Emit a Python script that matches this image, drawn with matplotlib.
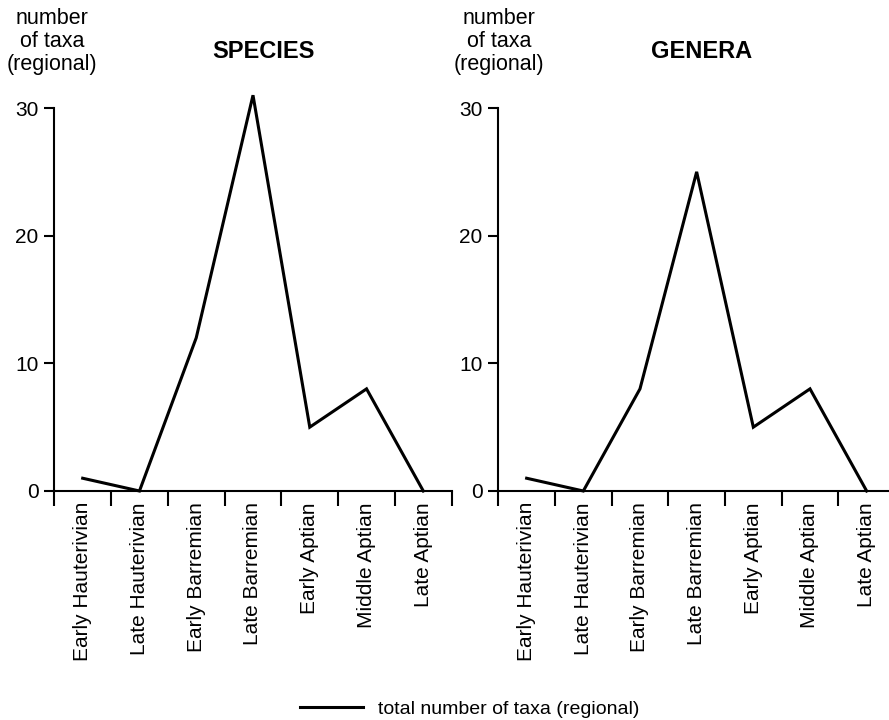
import matplotlib
matplotlib.use("Agg")
import matplotlib.pyplot as plt
from matplotlib.lines import Line2D
import numpy as np

plt.rcParams['font.family'] = ['Liberation Sans', 'DejaVu Sans']

# data
stages = ["Early Hauterivian", "Late Hauterivian", "Early Barremian",
          "Late Barremian", "Early Aptian", "Middle Aptian", "Late Aptian"]
species = [1, 0, 12, 31, 5, 8, 0]
genera = [1, 0, 8, 25, 5, 8, 0]
yticks = [0, 10, 20, 30]
titles = ["SPECIES", "GENERA"]
ylab = "number\nof taxa\n(regional)"
legend_label = "total number of taxa (regional)"

W, H = 889, 720
fig = plt.figure(figsize=(W / 100, H / 100), dpi=100)


def px_axes(x0, x1, ybot, ytop):
    # axes box given in pixel coords of the image (y downward)
    return fig.add_axes([x0 / W, 1 - ybot / H, (x1 - x0) / W, (ybot - ytop) / H])


def panel(ax, vals, title, title_x, lab_x):
    n = len(stages)
    x = np.arange(n) + 0.5
    ax.plot(x, vals, color='black', lw=2.2, clip_on=False,
            solid_joinstyle='miter')
    ax.set_xlim(0, n)
    ax.set_ylim(0, 30)
    for s in ['top', 'right']:
        ax.spines[s].set_visible(False)
    ax.spines['left'].set_bounds(0, 30)
    ax.spines['left'].set_linewidth(1.5)
    ax.spines['bottom'].set_linewidth(1.5)
    ax.set_yticks(yticks)
    ax.tick_params(axis='y', length=7.2, width=1.5, labelsize=15, pad=4)
    # boundaries as major ticks, names at the centres as minor ticks
    ax.set_xticks(np.arange(n + 1))
    ax.set_xticklabels([])
    ax.tick_params(axis='x', which='major', length=10.8, width=1.5)
    ax.set_xticks(x, minor=True)
    ax.set_xticklabels(stages, minor=True, rotation=90, fontsize=15)
    ax.tick_params(axis='x', which='minor', length=0, pad=8)
    fig.text(title_x / W, 1 - 51 / H, title, ha='center', va='center',
             fontsize=17, fontweight='bold')
    fig.text(lab_x / W, 1 - 8 / H, ylab, ha='center', va='top',
             fontsize=15.5, linespacing=1.12, multialignment='center')


ax1 = px_axes(54.3, 451.7, 491, 108)
panel(ax1, species, titles[0], 263, 52)
ax2 = px_axes(498.3, 895.0, 491, 108)
panel(ax2, genera, titles[1], 702, 499)

handle = Line2D([], [], color='black', lw=2.2)
fig.legend([handle], [legend_label], loc='center',
           bbox_to_anchor=(470 / W, 1 - 709 / H), frameon=False,
           fontsize=14, handlelength=3.2, handletextpad=0.8)

fig.savefig("out.png", dpi=100)
